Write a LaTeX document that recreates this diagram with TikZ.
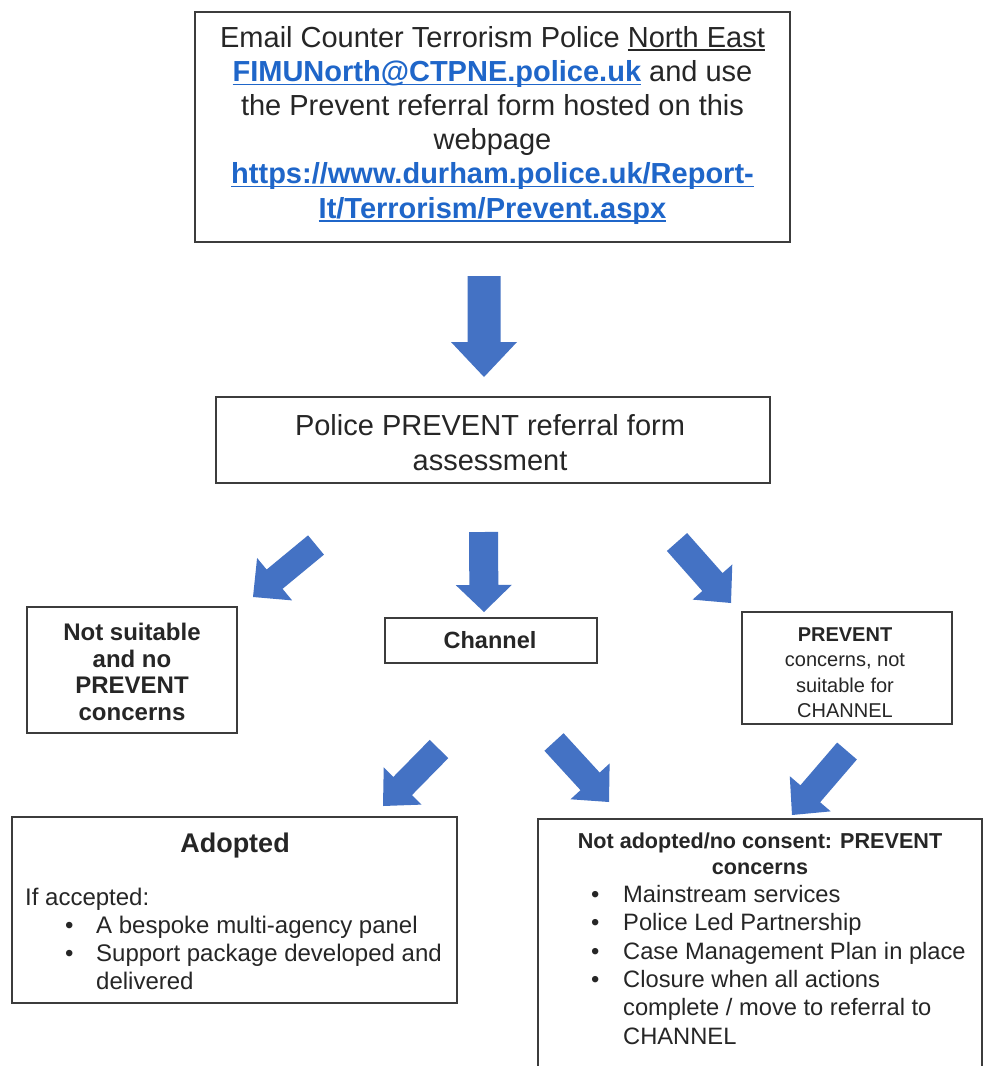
\documentclass[tikz,border=0pt]{standalone}
\usepackage{fontspec}
\setmainfont{Liberation Sans}
\usetikzlibrary{calc}
\definecolor{arrowfill}{HTML}{4472C4}
\definecolor{linkblue}{HTML}{1F66C9}
\definecolor{boxline}{HTML}{3C3C3C}
\definecolor{txt}{HTML}{262626}
\newcommand{\fsz}[2]{\fontsize{#1}{#2}\selectfont}
\newcommand{\uln}[1]{\setbox0\hbox{#1}\rlap{\rule[-3.5pt]{\wd0}{1.2pt}}\box0}
% #1 arrow name prefix (uses #1t tail, #1h tip), #2 shaft half width, #3 head half width, #4 head length
\newcommand{\blockarr}[4]{%
  \coordinate (#1b) at ($(#1h)!#4!(#1t)$);
  \fill[arrowfill] ($(#1t)!#2!90:(#1h)$) -- ($(#1b)!#2!90:(#1h)$) -- ($(#1b)!#3!90:(#1h)$) -- (#1h)
     -- ($(#1b)!#3!-90:(#1h)$) -- ($(#1b)!#2!-90:(#1h)$) -- ($(#1t)!#2!-90:(#1h)$) -- cycle;
}
\begin{document}
\begin{tikzpicture}[x=1pt,y=-1pt,
  box/.style 2 args={draw=boxline, line width=1.8pt, minimum width=#1pt, minimum height=#2pt, inner sep=0pt},
  tx/.style={inner sep=0pt, align=center, text=txt},
  txl/.style={inner sep=0pt, align=left, text=txt, anchor=north west}]
\useasboundingbox (0,0) rectangle (987,1066);
\clip (0,0) rectangle (987,1066);
\fill[white] (0,0) rectangle (987,1066);

% boxes
\node[box={595}{230}] (top) at (492.5,127) {};
\node[box={554}{86}] (assess) at (493,440) {};
\node[box={210}{126}] (notsuit) at (132,670) {};
\node[box={212}{45}] (channel) at (491,640.5) {};
\node[box={210}{112}] (prevent) at (847,668) {};
\node[box={445}{186}] (adopted) at (234.5,910) {};
\node[box={444}{281}] (notadopt) at (760,959.5) {};

% texts
\node[tx, font=\fsz{29}{34.2}] (toptext) at (492.5,125) {Email Counter Terrorism Police \uln{North East}\\
{\bfseries\color{linkblue}\uln{FIMUNorth@CTPNE.police.uk}} and use\\
the Prevent referral form hosted on this\\
webpage\\
{\bfseries\color{linkblue}\uln{https://www.durham.police.uk/Report-}}\\
{\bfseries\color{linkblue}\uln{It/Terrorism/Prevent.aspx}}};

\node[tx, font=\fsz{29}{35}] (assesstext) at (490,443) {Police PREVENT referral form\\assessment};
\node[tx, font=\fsz{24}{26.7}\bfseries] (notsuittext) at (132,672) {Not suitable\\and no\\PREVENT\\concerns};
\node[tx, font=\fsz{23.5}{28}\bfseries] (channeltext) at (490,639.6) {Channel};
\node[tx, font=\fsz{20}{25.5}] (preventtext) at (845,672.5) {\textbf{PREVENT}\\concerns, not\\suitable for\\CHANNEL};

\node[tx, font=\fsz{27}{32}\bfseries] (adoptedtitle) at (235,846) {Adopted};
\node[txl, font=\fsz{24}{28.2}] (adoptedbody) at (25,887.5) {If accepted:\\
\hspace*{40pt}\makebox[31pt][l]{•}A bespoke multi-agency panel\\
\hspace*{40pt}\makebox[31pt][l]{•}Support package developed and\\
\hspace*{71pt}delivered};

\node[tx, font=\fsz{21.6}{26}\bfseries] (notadopttitle) at (760,854) {Not adopted/no consent: PREVENT\\concerns};
\node[txl, font=\fsz{23.7}{28.4}] (notadoptbody) at (591,885) {\makebox[32pt][l]{•}Mainstream services\\
\makebox[32pt][l]{•}Police Led Partnership\\
\makebox[32pt][l]{•}Case Management Plan in place\\
\makebox[32pt][l]{•}Closure when all actions\\
\hspace*{32pt}complete / move to referral to\\
\hspace*{32pt}CHANNEL};

% block arrows
\coordinate (a1t) at (484,276); \coordinate (a1h) at (484,377);
\blockarr{a1}{16.5pt}{33pt}{35pt}
\coordinate (a2t) at (316,545); \coordinate (a2h) at (253,597);
\blockarr{a2}{12.5pt}{27.5pt}{28pt}
\coordinate (a3t) at (483.5,532); \coordinate (a3h) at (484,612);
\blockarr{a3}{14.5pt}{28pt}{27pt}
\coordinate (a4t) at (677,542); \coordinate (a4h) at (731,603);
\blockarr{a4}{13.5pt}{26.5pt}{28pt}
\coordinate (a5t) at (439,749); \coordinate (a5h) at (383,806);
\blockarr{a5}{13pt}{26.5pt}{28pt}
\coordinate (a6t) at (554,742); \coordinate (a6h) at (609,802);
\blockarr{a6}{13pt}{26.5pt}{28pt}
\coordinate (a7t) at (847,751); \coordinate (a7h) at (792,815);
\blockarr{a7}{13pt}{27pt}{28pt}
\end{tikzpicture}
\end{document}
